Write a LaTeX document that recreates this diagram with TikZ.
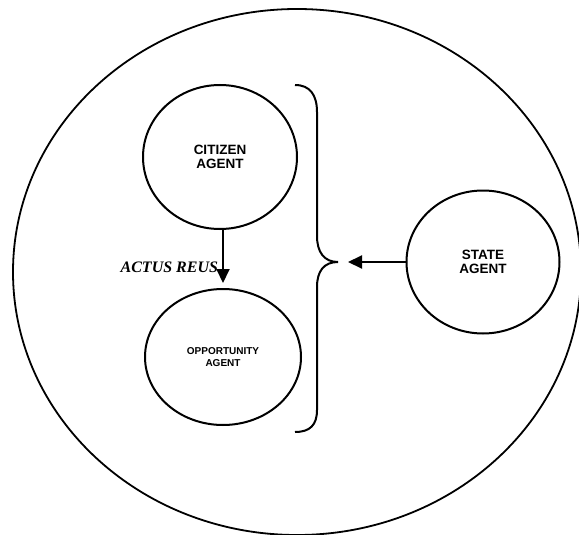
\documentclass[tikz,border=0pt]{standalone}
\usepackage{fontspec}
\setmainfont{Liberation Serif}
\setsansfont{Liberation Sans}
\usetikzlibrary{arrows.meta, shapes.geometric}
\tikzset{Agents/.style = {% sizes are in pixels of the picture
     agent/.style = {ellipse, draw, line width=2pt, inner sep=0pt,
                     align=center, font=\sffamily\bfseries\fontsize{13.5}{14}\selectfont},
     small/.style = {font=\sffamily\bfseries\fontsize{10}{11.5}\selectfont},
     arrow/.style = {line width=2pt, -{Triangle[length=14pt,width=13pt]}},
     brace/.style = {line width=2pt}}
        }

\begin{document}
\begin{tikzpicture}[Agents, x=1pt, y=-1pt]
\useasboundingbox (0,0) rectangle (579,535);
\clip (0,0) rectangle (579,535);

% world
\draw [line width=1.8pt] (297,272) ellipse [x radius=284, y radius=263];

% nodes
\node (citizen)     [agent, minimum width=154pt, minimum height=144pt] at (220,157) {CITIZEN\\AGENT};
\node (opportunity) [agent, small, minimum width=156pt, minimum height=136pt] at (223,357) {OPPORTUNITY\\AGENT};
\node (state)       [agent, minimum width=153pt, minimum height=143pt] at (483,262) {STATE\\AGENT};
\coordinate (tip) at (338,262);

% extra paths
\draw [brace] (295,85) .. controls (310,85) and (317,95) .. (317,112) -- (317,236)
      .. controls (317,252) and (324,262) .. (tip)
      .. controls (324,262) and (317,271) .. (317,287) -- (317,410)
      .. controls (317,425) and (310,432) .. (295,432);
\draw [arrow, shorten >=5pt] (opportunity.north |- citizen.south) --
      node[pos=0.64, left, inner sep=4pt, font=\bfseries\itshape\fontsize{16}{18}\selectfont] {ACTUS REUS}
      (opportunity.north);
\draw [arrow, shorten >=10pt] (state.west) -- (tip);

\end{tikzpicture}
\end{document}
